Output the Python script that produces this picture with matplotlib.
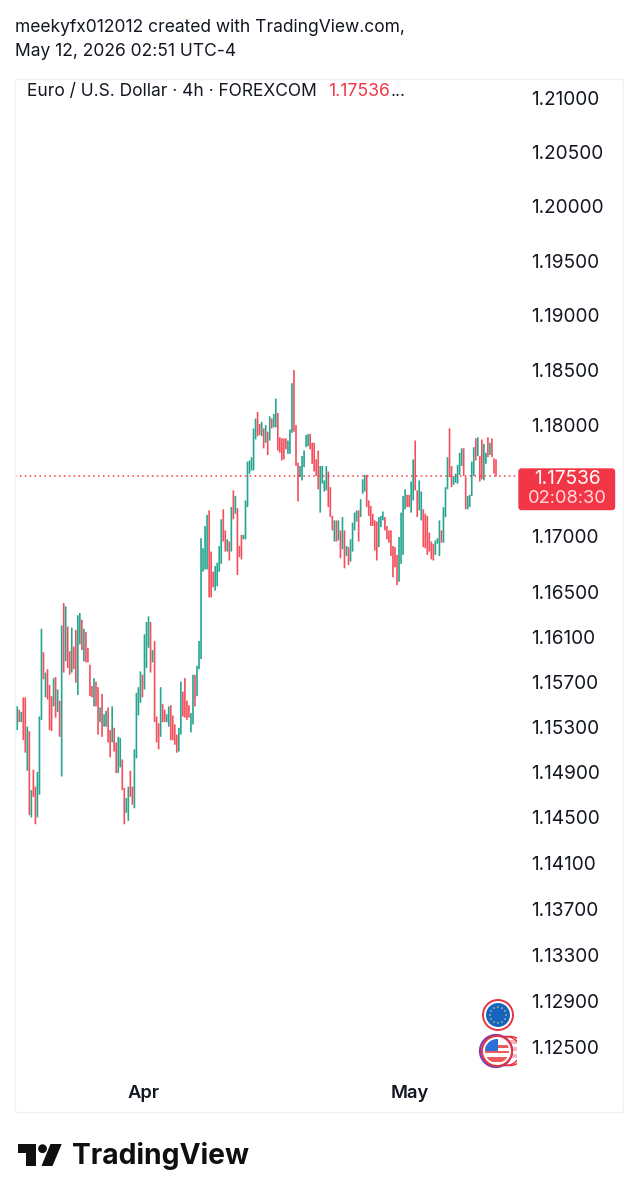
import numpy as np
import matplotlib
matplotlib.use("Agg")
import matplotlib.pyplot as plt
from matplotlib.patches import Circle, FancyBboxPatch, Polygon, Rectangle
from matplotlib.ticker import FixedLocator, FixedFormatter, NullLocator

plt.rcParams['font.family'] = ['Inter', 'DejaVu Sans']

# EUR/USD 4h bars, FOREXCOM
highs = [
    1.1548, 1.1548, 1.1545, 1.1543, 1.1556, 1.1556, 1.1530, 1.1526, 1.1474, 1.1492,
    1.1477, 1.1490, 1.1539, 1.1617, 1.1596, 1.1578, 1.1581, 1.1567, 1.1557, 1.1573,
    1.1574, 1.1563, 1.1553, 1.1620, 1.1640, 1.1637, 1.1619, 1.1597, 1.1618, 1.1601,
    1.1616, 1.1629, 1.1631, 1.1625, 1.1617, 1.1614, 1.1600, 1.1585, 1.1566, 1.1573,
    1.1570, 1.1565, 1.1547, 1.1559, 1.1541, 1.1544, 1.1547, 1.1527, 1.1548, 1.1529,
    1.1516, 1.1521, 1.1520, 1.1501, 1.1476, 1.1467, 1.1477, 1.1491, 1.1477, 1.1510,
    1.1560, 1.1565, 1.1579, 1.1576, 1.1612, 1.1623, 1.1628, 1.1623, 1.1598, 1.1606,
    1.1539, 1.1533, 1.1565, 1.1550, 1.1545, 1.1541, 1.1548, 1.1549, 1.1540, 1.1532,
    1.1523, 1.1529, 1.1570, 1.1561, 1.1573, 1.1553, 1.1549, 1.1542, 1.1576, 1.1576,
    1.1584, 1.1606, 1.1698, 1.1689, 1.1709, 1.1719, 1.1723, 1.1686, 1.1668, 1.1673,
    1.1676, 1.1691, 1.1715, 1.1724, 1.1705, 1.1697, 1.1695, 1.1726, 1.1741, 1.1736,
    1.1725, 1.1691, 1.1701, 1.1701, 1.1732, 1.1767, 1.1768, 1.1771, 1.1797, 1.1806,
    1.1812, 1.1801, 1.1803, 1.1797, 1.1800, 1.1794, 1.1808, 1.1806, 1.1810, 1.1824,
    1.1811, 1.1789, 1.1788, 1.1788, 1.1788, 1.1786, 1.1796, 1.1838, 1.1850, 1.1800,
    1.1766, 1.1763, 1.1772, 1.1777, 1.1791, 1.1792, 1.1792, 1.1784, 1.1784, 1.1769,
    1.1777, 1.1763, 1.1763, 1.1750, 1.1763, 1.1758, 1.1744, 1.1718, 1.1714, 1.1714,
    1.1714, 1.1705, 1.1717, 1.1705, 1.1691, 1.1690, 1.1697, 1.1712, 1.1721, 1.1723,
    1.1723, 1.1733, 1.1751, 1.1755, 1.1755, 1.1732, 1.1727, 1.1720, 1.1714, 1.1713,
    1.1717, 1.1718, 1.1722, 1.1717, 1.1709, 1.1705, 1.1705, 1.1691, 1.1690, 1.1683,
    1.1699, 1.1721, 1.1736, 1.1742, 1.1737, 1.1737, 1.1749, 1.1769, 1.1786, 1.1741,
    1.1750, 1.1740, 1.1724, 1.1720, 1.1718, 1.1703, 1.1695, 1.1693, 1.1696, 1.1698,
    1.1714, 1.1705, 1.1726, 1.1744, 1.1771, 1.1797, 1.1763, 1.1754, 1.1756, 1.1764,
    1.1775, 1.1779, 1.1779, 1.1753, 1.1736, 1.1737, 1.1767, 1.1780, 1.1788, 1.1789,
    1.1772, 1.1787, 1.1783, 1.1775, 1.1789, 1.1784, 1.1788, 1.1770, 1.1769,
]
lows = [
    1.1520, 1.1527, 1.1534, 1.1534, 1.1518, 1.1507, 1.1491, 1.1452, 1.1450, 1.1468,
    1.1444, 1.1450, 1.1470, 1.1536, 1.1572, 1.1556, 1.1554, 1.1527, 1.1526, 1.1548,
    1.1538, 1.1543, 1.1521, 1.1486, 1.1578, 1.1588, 1.1582, 1.1576, 1.1578, 1.1581,
    1.1569, 1.1558, 1.1603, 1.1598, 1.1588, 1.1587, 1.1587, 1.1557, 1.1556, 1.1548,
    1.1548, 1.1523, 1.1534, 1.1521, 1.1530, 1.1530, 1.1516, 1.1503, 1.1516, 1.1508,
    1.1489, 1.1489, 1.1494, 1.1474, 1.1444, 1.1454, 1.1447, 1.1468, 1.1461, 1.1458,
    1.1502, 1.1540, 1.1551, 1.1556, 1.1563, 1.1582, 1.1600, 1.1578, 1.1587, 1.1534,
    1.1516, 1.1510, 1.1521, 1.1534, 1.1534, 1.1534, 1.1530, 1.1518, 1.1518, 1.1514,
    1.1507, 1.1508, 1.1523, 1.1539, 1.1538, 1.1536, 1.1538, 1.1525, 1.1532, 1.1548,
    1.1557, 1.1581, 1.1590, 1.1668, 1.1670, 1.1670, 1.1645, 1.1645, 1.1654, 1.1651,
    1.1655, 1.1668, 1.1675, 1.1695, 1.1686, 1.1686, 1.1678, 1.1686, 1.1715, 1.1720,
    1.1665, 1.1681, 1.1679, 1.1697, 1.1697, 1.1726, 1.1756, 1.1759, 1.1759, 1.1787,
    1.1790, 1.1791, 1.1790, 1.1779, 1.1784, 1.1773, 1.1786, 1.1797, 1.1798, 1.1798,
    1.1777, 1.1775, 1.1768, 1.1769, 1.1778, 1.1774, 1.1774, 1.1793, 1.1794, 1.1763,
    1.1731, 1.1753, 1.1750, 1.1762, 1.1780, 1.1781, 1.1778, 1.1765, 1.1758, 1.1754,
    1.1742, 1.1721, 1.1747, 1.1740, 1.1741, 1.1726, 1.1717, 1.1705, 1.1695, 1.1695,
    1.1696, 1.1680, 1.1688, 1.1671, 1.1682, 1.1674, 1.1677, 1.1686, 1.1705, 1.1713,
    1.1695, 1.1717, 1.1738, 1.1740, 1.1726, 1.1718, 1.1709, 1.1709, 1.1687, 1.1678,
    1.1690, 1.1708, 1.1714, 1.1705, 1.1697, 1.1694, 1.1682, 1.1663, 1.1672, 1.1656,
    1.1659, 1.1675, 1.1683, 1.1724, 1.1726, 1.1726, 1.1721, 1.1732, 1.1741, 1.1717,
    1.1723, 1.1714, 1.1690, 1.1689, 1.1683, 1.1686, 1.1679, 1.1678, 1.1683, 1.1693,
    1.1682, 1.1694, 1.1694, 1.1717, 1.1742, 1.1753, 1.1744, 1.1746, 1.1748, 1.1747,
    1.1755, 1.1763, 1.1754, 1.1724, 1.1724, 1.1726, 1.1736, 1.1754, 1.1768, 1.1772,
    1.1749, 1.1751, 1.1750, 1.1765, 1.1771, 1.1773, 1.1771, 1.1756, 1.17536,
]
# U = closed higher, D = closed lower
directions = (
    "UUDUDDUDUD" "DUUUDUDDDU" "DUDUDUDDUD" "DUUDUDDDDU" "DDUDUUDDUD"
    "DUUDDUUDDU" "UUUDUUUDUD" "DDUDDUUDDD" "DUUDDDDUUD" "UUUUUUDDDU"
    "UUUDDUDUDU" "DDDUUUUUUU" "DDUDUDUDUU" "DDDDDUUUDD" "DUUUUUDDDD"
    "DUUUUDDDUD" "UDUDUDUUUU" "DUUUDDDDDD" "UUUDDDDDDD" "UUUUDDUUDD"
    "UUDDDDDDUU" "UDUUUDDUUU" "UUDDUUUUDU" "DDUUDUDDD"
)
price_ticks = [1.21, 1.205, 1.20, 1.195, 1.19, 1.185, 1.18, 1.17, 1.165, 1.161,
               1.157, 1.153, 1.149, 1.145, 1.141, 1.137, 1.133, 1.129, 1.125]
month_bars = [63.4, 195.5]
month_labels = ["Apr", "May"]
last_price = 1.17536
countdown = "02:08:30"

TEAL = "#089981"
RED = "#F23645"
INK = "#131722"
W, H = 637, 1200

fig = plt.figure(figsize=(W / 100, H / 100), dpi=100, facecolor="white")


def pane(left, top, right, bottom):
    return [left / W, 1 - bottom / H, (right - left) / W, (bottom - top) / H]


ax = fig.add_axes(pane(15, 78, 517, 1075))
ax.set_yscale("log")
ax.set_ylim(1.12258, 1.21186)
ax.set_xlim(-0.1, 248.4)
for s in ax.spines.values():
    s.set_visible(False)

x = np.arange(len(highs))
colors = [TEAL if d == "U" else RED for d in directions]
bars = ax.vlines(x, lows, highs, colors=colors, linewidth=1.2, capstyle="butt", alpha=0.88)
bars.set_snap(False)
ax.axhline(last_price, color=RED, linewidth=1.1, linestyle=(0, (1, 2.2)))

ax.yaxis.tick_right()
ax.yaxis.set_major_locator(FixedLocator(price_ticks))
ax.yaxis.set_major_formatter(FixedFormatter([f"{p:.5f}" for p in price_ticks]))
ax.yaxis.set_minor_locator(NullLocator())
ax.tick_params(axis="y", which="both", length=0, pad=10.2, labelsize=13.7, labelcolor=INK)
ax.set_xticks(month_bars, month_labels)
ax.tick_params(axis="x", length=0, pad=7.5, labelsize=13.2, labelcolor=INK)
for lab in ax.get_xticklabels():
    lab.set_fontweight("semibold")

# Overlay in pixel units for the frame, tag, header, flags and logo
ov = fig.add_axes([0, 0, 1, 1], zorder=5)
ov.set_xlim(0, W)
ov.set_ylim(H, 0)
ov.axis("off")
ov.patch.set_alpha(0)

ov.add_patch(Rectangle((14.5, 78.5), 608, 1033, fill=False, ec="#f0f1f4", lw=1.0))

ov.add_patch(FancyBboxPatch((519, 469), 95.5, 40.5, boxstyle="round,pad=0,rounding_size=2.5",
                            fc=RED, ec=RED, lw=1.0))
ov.text(567, 478.5, f"{last_price:.5f}", color="white", fontsize=13.7, ha="center", va="center")
ov.text(567, 498.5, countdown, color="#ffd9dd", fontsize=13.2, ha="center", va="center")

ov.text(15, 27.5, "meekyfx012012 created with TradingView.com,", color=INK, fontsize=12.55,
        ha="left", va="center")
ov.text(15, 52, "May 12, 2026 02:51 UTC-4", color=INK, fontsize=12.55, ha="left", va="center")
ov.text(27, 91, "Euro / U.S. Dollar · 4h · FOREXCOM", color=INK, fontsize=12.5,
        ha="left", va="center")
ov.text(328, 91, f"{last_price:.5f}", color=RED, fontsize=12.7, ha="left", va="center")
ov.text(391, 91, "...", color=INK, fontsize=12.5, ha="left", va="center")

# Currency badges
ov.add_patch(Circle((498, 1015), 15, fc="white", ec="#e5343f", lw=1.4))
ov.add_patch(Circle((498, 1015), 12, fc="#1565c0", ec="none"))
for a in np.linspace(0, 2 * np.pi, 12, endpoint=False):
    ov.add_patch(Circle((498 + 8 * np.cos(a), 1015 + 8 * np.sin(a)), 0.8, fc="#d8cf6a", ec="none"))

clip = Rectangle((470, 1030), 47, 45, transform=ov.transData)
for top in (1040, 1047, 1054):
    s = Rectangle((506, top), 11, 3.5, fc="#f8b4b6", ec="none")
    ov.add_patch(s)
for off in (9, 13):
    ghost = Circle((497 + off, 1051), 14.5, fill=False, ec="#e5343f", lw=1.1)
    ov.add_patch(ghost)
    ghost.set_clip_path(clip)
ov.add_patch(Circle((496, 1051), 16, fill=False, ec="#7b3fb5", lw=1.6))
ov.add_patch(Circle((497, 1051), 15, fc="white", ec="#e5343f", lw=1.4))
disc = Circle((497, 1051), 12, transform=ov.transData)
for top, hgt in ((1045, 3), (1050.5, 2.5), (1057, 4.5)):
    r = Rectangle((485, top), 24, hgt, fc="#f0595c", ec="none")
    ov.add_patch(r)
    r.set_clip_path(disc)
canton = Rectangle((485, 1039), 13, 12, fc="#2f6fd8", ec="none")
ov.add_patch(canton)
canton.set_clip_path(disc)

# Wordmark
ov.add_patch(Polygon([(17.5, 1144), (35.7, 1144), (35.7, 1166), (26, 1166), (26, 1153), (17.5, 1153)],
                     fc="#0f0f0f", ec="none"))
ov.add_patch(Circle((42.5, 1148.7), 4.4, fc="#0f0f0f", ec="none"))
ov.add_patch(Polygon([(50.5, 1144), (61.7, 1144), (52.5, 1166), (41.5, 1166)], fc="#0f0f0f", ec="none"))
ov.text(72, 1156, "TradingView", color="#0f0f0f", fontsize=20.35, fontweight="bold",
        ha="left", va="center")

fig.savefig("out.png", dpi=100, facecolor="white")
